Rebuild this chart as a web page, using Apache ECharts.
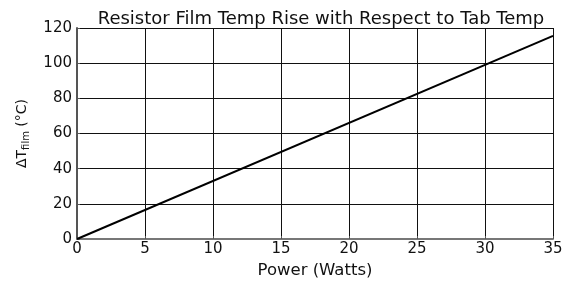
<!DOCTYPE html>
<html>
<head>
<meta charset="utf-8">
<script src="https://cdn.jsdelivr.net/npm/echarts@6/dist/echarts.min.js"></script>
<style>
  html, body { margin: 0; padding: 0; background: #fff; }
  #chart { width: 571px; height: 284px; }
</style>
</head>
<body>
<div id="chart"></div>
<script>
// 資料：功率 (W) 與膜溫升 (°C)
const powerWatts = [0, 35];
const tempRise = [0, 115.5];
const xTicks = [0, 5, 10, 15, 20, 25, 30, 35];
const yTicks = [0, 20, 40, 60, 80, 100, 120];

const chart = echarts.init(document.getElementById('chart'), null, { renderer: 'canvas' });
const font = 'DejaVu Sans, Liberation Sans, Arial, sans-serif';

const option = {
  animation: false,
  title: {
    text: 'Resistor Film Temp Rise with Respect to Tab Temp',
    left: 316,
    textAlign: 'center',
    top: 5,
    textStyle: { fontFamily: font, fontSize: 18, fontWeight: 'normal', color: '#111' },
  },
  grid: { left: 77, right: 18, top: 28, bottom: 44 },
  xAxis: {
    type: 'value',
    min: xTicks[0],
    max: xTicks[xTicks.length - 1],
    interval: 5,
    name: 'Power (Watts)',
    nameLocation: 'middle',
    nameGap: 23,
    nameTextStyle: { fontFamily: font, fontSize: 16.5, color: '#111' },
    axisLine: { show: true, lineStyle: { color: '#777', width: 2 } },
    axisTick: { show: true, inside: true, length: 3, lineStyle: { color: '#555' } },
    axisLabel: { fontFamily: font, fontSize: 15, color: '#111', margin: 3 },
    splitLine: { show: true, lineStyle: { color: '#111', width: 1 } },
  },
  yAxis: {
    type: 'value',
    min: yTicks[0],
    max: yTicks[yTicks.length - 1],
    interval: 20,
    name: '{a|ΔT}{b|film}{a| (°C)}',
    nameLocation: 'middle',
    nameGap: 48,
    nameTextStyle: {
      rich: {
        a: { fontFamily: font, fontSize: 14, color: '#111', verticalAlign: 'bottom' },
        b: { fontFamily: font, fontSize: 10, color: '#111', verticalAlign: 'bottom', padding: [0, 0, -2, 0] },
      },
    },
    axisLine: { show: true, lineStyle: { color: '#555', width: 2 } },
    axisTick: { show: true, inside: true, length: 3, lineStyle: { color: '#555' } },
    axisLabel: { fontFamily: font, fontSize: 15, color: '#111', margin: 5 },
    splitLine: { show: true, lineStyle: { color: '#111', width: 1 } },
  },
  series: [
    {
      type: 'line',
      data: powerWatts.map((p, i) => [p, tempRise[i]]),
      showSymbol: false,
      lineStyle: { color: '#000', width: 2 },
    },
  ],
};

chart.setOption(option);
</script>
</body>
</html>
